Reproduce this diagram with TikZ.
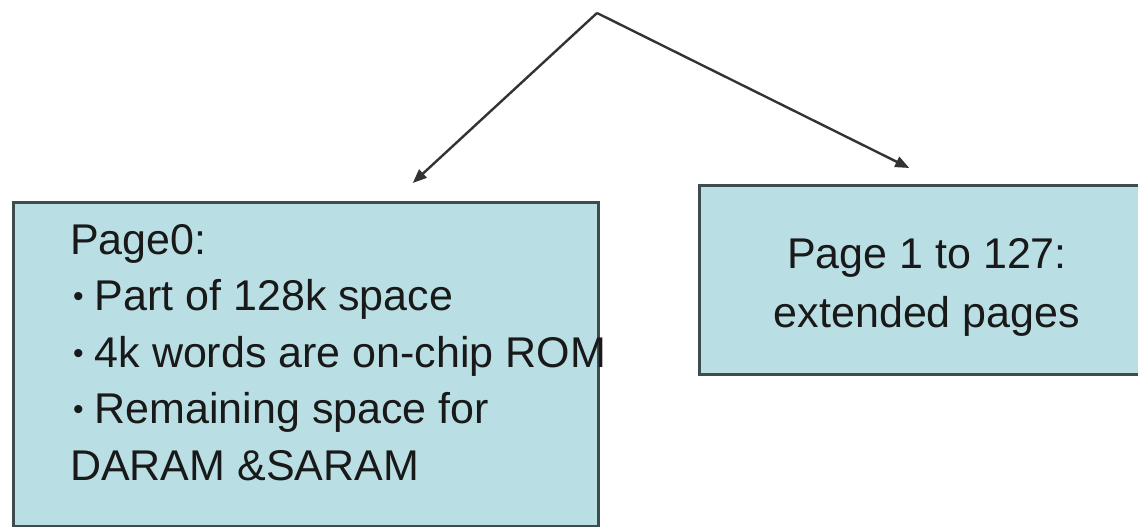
\documentclass[tikz,border=0pt]{standalone}
\usepackage{fontspec}
\setmainfont{Liberation Sans}
\usetikzlibrary{arrows.meta}

\definecolor{pagefill}{RGB}{185,223,228}
\definecolor{pageedge}{RGB}{62,76,80}
% small list bullet
\newcommand{\pgbullet}{\hspace{3pt}\raisebox{4pt}{\fontsize{30}{30}\selectfont\textbullet}\hspace{11pt}}

\begin{document}
\begin{tikzpicture}[x=1pt, y=-1pt,
  pagebox/.style={draw=pageedge, line width=2.5pt, fill=pagefill, inner sep=0pt},
  link/.style={-{Triangle[length=14pt,width=11pt]}, draw=black!80, line width=2.4pt},
  every node/.style={font=\fontsize{43}{56.5}\selectfont}]
\useasboundingbox (0,0) rectangle (1138,527);
\clip (0,0) rectangle (1138,527);
% the two page blocks
\node[pagebox, minimum width=585pt, minimum height=324pt, anchor=north west] (page0) at (12,201) {};
\node[pagebox, minimum width=460pt, minimum height=189pt, anchor=north west] (pagex) at (698,184) {};
% their texts (base is the last line)
\node[anchor=base west, align=left, inner sep=0pt, text=black!90] (page0txt) at (70,480)
  {Page0:\\ \pgbullet Part of 128k space\\ \pgbullet 4k words are on-chip ROM\\ \pgbullet Remaining space for\\ DARAM \&SARAM};
\node[anchor=base, align=center, inner sep=0pt, text=black!90, font=\fontsize{43}{59}\selectfont] (pagextxt) at (927,327)
  {Page 1 to 127:\\ extended pages};
% split into page 0 and the rest
\coordinate (top) at (597,13);
\coordinate (tip0) at ([xshift=107pt,yshift=18pt]page0.north);
\coordinate (tipx) at ([xshift=-20pt,yshift=16pt]pagex.north);
\draw[link] (top) -- (tip0);
\draw[link] (top) -- (tipx);
\end{tikzpicture}
\end{document}
